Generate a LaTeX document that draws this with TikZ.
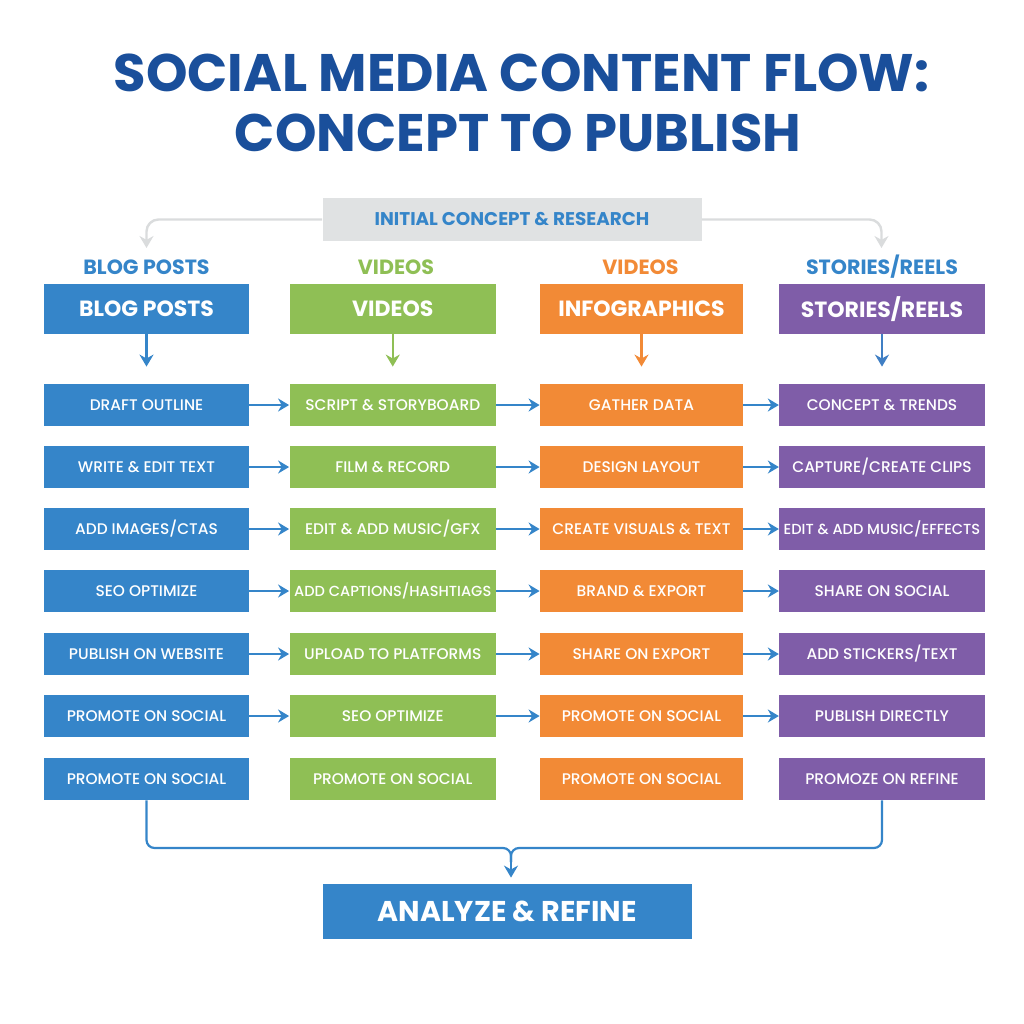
\documentclass[tikz,border=0pt]{standalone}
\usepackage{fontspec}
\setmainfont{Poppins}
\newfontfamily\stepfont{Poppins Medium}
\usetikzlibrary{arrows.meta}
\definecolor{titlebleu}{HTML}{1A4F9B}
\definecolor{bleu}{HTML}{3585C9}
\definecolor{vert}{HTML}{8FBF55}
\definecolor{orange}{HTML}{F28A36}
\definecolor{violet}{HTML}{7F5DA8}
\definecolor{gris}{HTML}{E0E2E3}
\definecolor{grisfleche}{HTML}{DADCDD}
\tikzset{blogbox/.style={fill=bleu,minimum width=102.5pt}}
\tikzset{videobox/.style={fill=vert,minimum width=103.25pt}}
\tikzset{infobox/.style={fill=orange,minimum width=101.5pt}}
\tikzset{reelbox/.style={fill=violet,minimum width=102.75pt}}
\tikzset{headbox/.style={
    text=white,
    inner sep=0pt,
    minimum height=24.75pt,
    font=\fontsize{11}{13}\selectfont\bfseries}}
\tikzset{stepbox/.style={
    text=white,
    inner sep=0pt,
    minimum height=21pt,
    font=\fontsize{7.7}{9}\stepfont}}
\tikzset{longstep/.style={
    font=\fontsize{7.3}{9}\stepfont}}
\tikzset{collabel/.style={
    font=\fontsize{10.3}{12}\selectfont\bfseries}}
\tikzset{titleline/.style={
    text=titlebleu,
    font=\fontsize{26.4}{32}\selectfont\bfseries}}
\tikzset{flow/.style={
    draw=bleu,
    line width=1.1pt,
    -{Stealth[length=5.5pt,width=6.5pt]}}}
\tikzset{down/.style={
    line width=1.1pt,
    shorten >=8.5pt,
    -{Stealth[length=6pt,width=7pt]}}}
\tikzset{split/.style={
    draw=grisfleche,
    line width=1.2pt,
    rounded corners=6pt,
    -{Stealth[length=6pt,width=7pt]}}}
\tikzset{joinline/.style={
    draw=bleu,
    line width=1.1pt,
    rounded corners=4pt}}

\begin{document}
\begin{tikzpicture}[x=0.5pt,y=-0.5pt]
\useasboundingbox (0,0) rectangle (1024,1024);

\node[titleline] (title1) at (521.5,73) {SOCIAL MEDIA CONTENT FLOW:};
\node[titleline] (title2) at (518,132.5) {CONCEPT TO PUBLISH};

\node[fill=gris,text=bleu,inner sep=0pt,minimum width=189.5pt,minimum height=21.5pt,
  font=\fontsize{9.2}{11}\selectfont\bfseries] (concept) at (512,219.5) {INITIAL CONCEPT \& RESEARCH};

\coordinate (splitL) at (146.5,248);
\coordinate (splitR) at (881.5,248);
\draw[split] (concept.west) -| (splitL);
\draw[split] (concept.east) -| (splitR);

\node[collabel,text=bleu] (lblog) at (146.5,267) {BLOG POSTS};
\node[collabel,text=vert] (lvideo) at (396,267) {VIDEOS};
\node[collabel,text=orange] (linfo) at (640.5,267) {VIDEOS};
\node[collabel,text=bleu] (lreel) at (882,267) {STORIES/REELS};

\node[headbox,blogbox] (hblog) at (146.5,309) {BLOG POSTS};
\node[headbox,videobox] (hvideo) at (392.75,309) {VIDEOS};
\node[headbox,infobox] (hinfo) at (641.5,309) {INFOGRAPHICS};
\node[headbox,reelbox] (hreel) at (882,309) {STORIES/REELS};

% blog posts
\node[stepbox,blogbox] (b1) at (146.5,405) {DRAFT OUTLINE};
\node[stepbox,blogbox] (b2) at (146.5,467) {WRITE \& EDIT TEXT};
\node[stepbox,blogbox] (b3) at (146.5,529) {ADD IMAGES/CTAS};
\node[stepbox,blogbox] (b4) at (146.5,591) {SEO OPTIMIZE};
\node[stepbox,blogbox] (b5) at (146.5,654) {PUBLISH ON WEBSITE};
\node[stepbox,blogbox] (b6) at (146.5,716) {PROMOTE ON SOCIAL};
\node[stepbox,blogbox] (b7) at (146.5,779) {PROMOTE ON SOCIAL};

% videos
\node[stepbox,videobox] (v1) at (392.75,405) {SCRIPT \& STORYBOARD};
\node[stepbox,videobox] (v2) at (392.75,467) {FILM \& RECORD};
\node[stepbox,videobox] (v3) at (392.75,529) {EDIT \& ADD MUSIC/GFX};
\node[stepbox,videobox,longstep] (v4) at (392.75,591) {ADD CAPTIONS/HASHTIAGS};
\node[stepbox,videobox] (v5) at (392.75,654) {UPLOAD TO PLATFORMS};
\node[stepbox,videobox] (v6) at (392.75,716) {SEO OPTIMIZE};
\node[stepbox,videobox] (v7) at (392.75,779) {PROMOTE ON SOCIAL};

% infographics
\node[stepbox,infobox] (i1) at (641.5,405) {GATHER DATA};
\node[stepbox,infobox] (i2) at (641.5,467) {DESIGN LAYOUT};
\node[stepbox,infobox] (i3) at (641.5,529) {CREATE VISUALS \& TEXT};
\node[stepbox,infobox] (i4) at (641.5,591) {BRAND \& EXPORT};
\node[stepbox,infobox] (i5) at (641.5,654) {SHARE ON EXPORT};
\node[stepbox,infobox] (i6) at (641.5,716) {PROMOTE ON SOCIAL};
\node[stepbox,infobox] (i7) at (641.5,779) {PROMOTE ON SOCIAL};

% stories
\node[stepbox,reelbox] (r1) at (882,405) {CONCEPT \& TRENDS};
\node[stepbox,reelbox] (r2) at (882,467) {CAPTURE/CREATE CLIPS};
\node[stepbox,reelbox,longstep] (r3) at (882,529) {EDIT \& ADD MUSIC/EFFECTS};
\node[stepbox,reelbox] (r4) at (882,591) {SHARE ON SOCIAL};
\node[stepbox,reelbox] (r5) at (882,654) {ADD STICKERS/TEXT};
\node[stepbox,reelbox] (r6) at (882,716) {PUBLISH DIRECTLY};
\node[stepbox,reelbox] (r7) at (882,779) {PROMOZE ON REFINE};

\draw[down,draw=bleu] (hblog) -- (b1);
\draw[down,draw=vert] (hvideo) -- (v1);
\draw[down,draw=orange] (hinfo) -- (i1);
\draw[down,draw=bleu!85!violet] (hreel) -- (r1);

\foreach \row in {1,...,6} {
  \draw[flow] (b\row) -- (v\row);
  \draw[flow] (v\row) -- (i\row);
  \draw[flow] (i\row) -- (r\row);
}

\node[fill=bleu,text=white,inner sep=0pt,minimum width=184.25pt,minimum height=27.5pt,
  font=\fontsize{14.3}{17}\selectfont\bfseries] (analyze) at (507.25,911.5) {ANALYZE \& REFINE};

\coordinate (merge) at (511,848);
\coordinate (mergedown) at (511,862);
\draw[joinline] (b7.south) |- (merge) -- (mergedown);
\draw[joinline] (r7.south) |- (merge) -- (mergedown);
\draw[draw=bleu,line width=1.1pt,shorten >=3pt,-{Stealth[length=6pt,width=7pt]}] (mergedown) -- (mergedown |- analyze.north);
\end{tikzpicture}
\end{document}
